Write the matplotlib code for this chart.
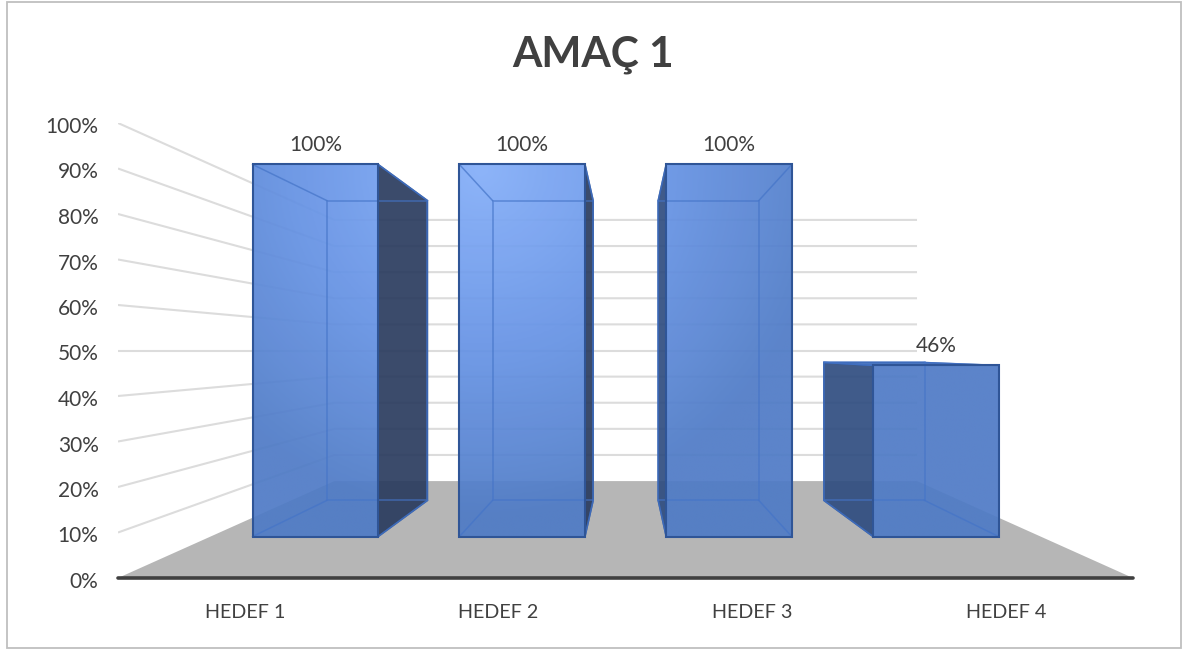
import numpy as np
import matplotlib
matplotlib.use("Agg")
import matplotlib.pyplot as plt
from matplotlib.colors import LinearSegmentedColormap
from matplotlib.patches import Polygon, Rectangle
from matplotlib.transforms import ScaledTranslation

# ---- data ----
categories = ["HEDEF 1", "HEDEF 2", "HEDEF 3", "HEDEF 4"]
values = [1.00, 1.00, 1.00, 0.46]
value_labels = ["100%", "100%", "100%", "46%"]
y_ticks = [0.0, 0.1, 0.2, 0.3, 0.4, 0.5, 0.6, 0.7, 0.8, 0.9, 1.0]
y_tick_labels = ["0%", "10%", "20%", "30%", "40%", "50%", "60%", "70%", "80%", "90%", "100%"]
title = "AMAÇ 1"

# ---- styling / view ----
W, H = 1182, 650
FONT = "Lato"
TEXT = "#404040"
BAR_WIDTH = 0.607
S_WALL = (0.574, 0.574)    # perspective scale (x, y) of the back wall
S_FRONT = (0.815, 0.8176)  # perspective scale (x, y) of the bar's front face
S_BACK = (0.653, 0.659)    # perspective scale (x, y) of the bar's back face
S_NEAR = (1.0, 1.0)
XC, VC = 2.002, 0.5        # vanishing point, in data units


def proj(x, v, s):
    """Perspective: scale a point towards the vanishing point."""
    return XC + s[0] * (x - XC), VC + s[1] * (v - VC)


fig = plt.figure(figsize=(W / 100, H / 100), dpi=100, facecolor="white")
fig.add_artist(Rectangle((6.5 / W, 2.5 / H), 1174.5 / W, 645.5 / H, transform=fig.transFigure,
                         fill=False, ec="#BFBFBF", lw=1.3))
ax = fig.add_axes([118 / W, (H - 578) / H, 1015 / W, 455 / H])
ax.set_facecolor("none")
for sp in ax.spines.values():
    sp.set_visible(False)

n = len(categories)
xs = np.arange(n) + 0.5

# gridlines: side wall, then back wall
for t in y_ticks[1:]:
    pts = [proj(0, t, S_NEAR), proj(0, t, S_WALL), proj(n, t, S_WALL)]
    ax.plot(*zip(*pts), color="#DCDCDC", lw=1.5, zorder=1, solid_capstyle="butt")

# floor
ax.add_patch(Polygon([proj(0, 0, S_NEAR), proj(n, 0, S_NEAR), proj(n, 0, S_WALL), proj(0, 0, S_WALL)],
                     fc="#B6B6B6", ec="none", zorder=2))
ax.plot([0, n], [0, 0], color="#404040", lw=2.6, zorder=3, clip_on=False, solid_capstyle="round")

# gradient shared by every bar's front face
gx, gv = np.meshgrid(np.linspace(0, n, 400), np.linspace(0, 1, 300))
gd = np.hypot((gx - 1.43) * 253.75, (gv - 0.9) * 455)
grad = np.clip(gd / 350, 0, 1)
cmap = LinearSegmentedColormap.from_list("bar", ["#84AEF9", "#6794E6", "#4F7BC6"])

for i, (x, val) in enumerate(zip(xs, values)):
    l, r = x - BAR_WIDTH / 2, x + BAR_WIDTH / 2
    fr = [proj(l, 0, S_FRONT), proj(r, 0, S_FRONT), proj(r, val, S_FRONT), proj(l, val, S_FRONT)]
    bk = [proj(l, 0, S_BACK), proj(r, 0, S_BACK), proj(r, val, S_BACK), proj(l, val, S_BACK)]
    z = 4 + i
    # visible side face, towards the vanishing point
    if x < XC:
        side = [fr[1], bk[1], bk[2], fr[2]]
        side_c = "#2A3B5E"
    else:
        side = [fr[0], bk[0], bk[3], fr[3]]
        side_c = "#2F4D80"
    ax.add_patch(Polygon(side, fc=side_c, alpha=0.92, ec="none", zorder=z))
    ax.add_patch(Polygon(side, fill=False, ec="#2F5597", lw=1.2, zorder=z + 0.1))
    if val < VC:  # top face shows only below the horizon
        ax.add_patch(Polygon([fr[3], fr[2], bk[2], bk[3]], fc="#4F7BC6", ec="#3A66B0", lw=1.0, zorder=z + 0.1))

    poly = Polygon(fr, transform=ax.transData, fc="none", ec="none")
    ax.add_patch(poly)
    im = ax.imshow(grad, extent=(0, n, 0, 1), origin="lower", aspect="auto", cmap=cmap,
                   vmin=0, vmax=1, alpha=0.93, zorder=z + 0.2, interpolation="bilinear")
    im.set_clip_path(poly)

    # inner edges of the translucent box
    inner = "#4474C8"
    for a, b in zip(fr, bk):
        ax.plot(*zip(a, b), color=inner, lw=1.1, alpha=0.7, zorder=z + 0.3)
    ax.add_patch(Polygon(bk, fill=False, ec=inner, lw=1.1, alpha=0.7, zorder=z + 0.3))
    ax.add_patch(Polygon(fr, fill=False, ec="#2F5597", lw=1.5, zorder=z + 0.4))

    ax.annotate(value_labels[i], proj(x, val, S_FRONT), xytext=(0, 19), textcoords="offset pixels",
                ha="center", va="center", fontsize=15, color=TEXT, family=FONT, zorder=20)

ax.set_xlim(0, n)
ax.set_ylim(0, 1)
ax.set_yticks(y_ticks, y_tick_labels, fontsize=15, color=TEXT, family=FONT)
ax.set_xticks(xs, categories, fontsize=14.2, color=TEXT, family=FONT)
ax.tick_params(axis="both", length=0)
ax.tick_params(axis="y", pad=14)
ax.tick_params(axis="x", pad=19)
down = ScaledTranslation(0, -2 / 100, fig.dpi_scale_trans)
for lab in ax.get_yticklabels():
    lab.set_transform(lab.get_transform() + down)

fig.text(593 / W, 1 - 55 / H, title, ha="center", va="center", fontsize=30.5, fontweight="bold",
         color=TEXT, family=FONT)

fig.savefig("out.png", dpi=100, facecolor="white")
